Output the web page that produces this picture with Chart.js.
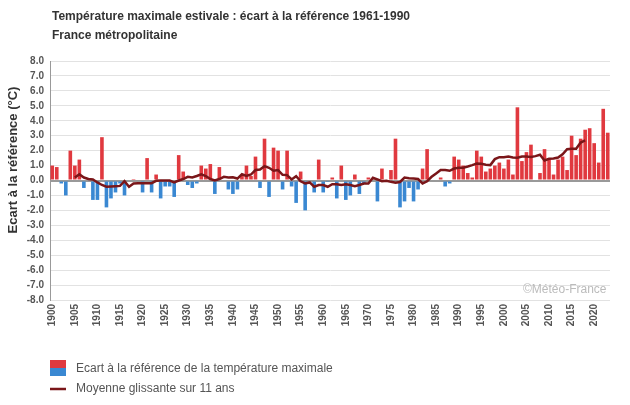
<!DOCTYPE html>
<html>
<head>
<meta charset="utf-8">
<script src="https://cdn.jsdelivr.net/npm/chart.js@4/dist/chart.umd.min.js"></script>
<style>
  html, body { margin: 0; padding: 0; background: #fff; }
</style>
</head>
<body>
<canvas id="tmaxChart" width="630" height="405"></canvas>
<script>
// Summer max temperature anomaly vs 1961-1990 (°C)
const firstYear = 1900;
const lastYear = 2023;
const years = [];
for (let y = firstYear; y <= lastYear; y++) years.push(String(y));

const anomalies = [
  1.0, 0.9, -0.2, -1.0, 2.0, 1.0, 1.4, -0.5, 0.1, -1.3,    // 1900
  -1.3, 2.9, -1.8, -1.2, -0.8, -0.2, -1.0, 0.0, 0.1, 0.0,  // 1910
  -0.8, 1.5, -0.8, 0.4, -1.2, -0.4, -0.4, -1.1, 1.7, 0.6,  // 1920
  -0.3, -0.5, -0.2, 1.0, 0.8, 1.1, -0.9, 0.9, 0.0, -0.6,   // 1930
  -0.9, -0.6, 0.4, 1.0, 0.3, 1.6, -0.5, 2.8, -1.1, 2.2,    // 1940
  2.0, -0.6, 2.0, -0.4, -1.5, 0.6, -2.0, 0.0, -0.8, 1.4,   // 1950
  -0.8, -0.1, 0.2, -1.2, 1.0, -1.3, -1.0, 0.4, -0.9, -0.2, // 1960
  0.2, 0.1, -1.4, 0.8, 0.0, 0.7, 2.8, -1.8, -1.4, -0.5,    // 1970
  -1.4, -0.6, 0.8, 2.1, 0.0, 0.0, 0.2, -0.4, -0.2, 1.6,    // 1980
  1.4, 1.0, 0.5, 0.2, 2.0, 1.6, 0.6, 0.8, 1.0, 1.2,        // 1990
  0.8, 1.4, 0.4, 4.9, 1.3, 1.9, 2.4, 0.0, 0.5, 2.1,        // 2000
  1.4, 0.4, 1.4, 1.6, 0.7, 3.0, 1.7, 2.8, 3.4, 3.5,        // 2010
  2.5, 1.2, 4.8, 3.2                                       // 2020
];

// 11-year running mean, 1905 -> 2018
const avgStart = 1905;
const movingAvg = [
  0.2, 0.42, 0.2, 0.1, 0.07,                                    // 1905
  -0.13, -0.3, -0.42, -0.4, -0.38, -0.36, -0.05, -0.42, -0.2, -0.18, // 1910
  -0.18, -0.18, -0.18, -0.02, 0.0, 0.0, 0.0, -0.13, 0.0, 0.1,   // 1920
  0.25, 0.2, 0.3, 0.42, 0.3, 0.1, 0.0, 0.1, 0.25, 0.2,          // 1930
  0.22, 0.13, 0.42, 0.3, 0.4, 0.7, 0.74, 0.96, 0.85, 0.65,      // 1940
  0.7, 0.38, 0.36, 0.07, 0.29, -0.05, -0.2, -0.13, -0.42, -0.3, // 1950
  -0.3, -0.42, -0.25, -0.25, -0.3, -0.25, -0.3, -0.38, -0.3, -0.2, // 1960
  -0.2, 0.18, 0.07, -0.05, -0.02, -0.09, -0.15, -0.1, 0.2, 0.15, // 1970
  0.13, 0.1, -0.2, -0.05, 0.25, 0.47, 0.7, 0.7, 0.65, 0.8,      // 1980
  0.85, 0.86, 0.94, 1.03, 1.14, 1.12, 1.05, 1.03, 1.43, 1.56,   // 1990
  1.56, 1.6, 1.54, 1.52, 1.6, 1.6, 1.58, 1.63, 1.72, 1.34,      // 2000
  1.45, 1.47, 1.54, 1.76, 2.1, 2.12, 2.12, 2.54, 2.68           // 2010
];

const RED = "#e0393f";
const BLUE = "#3a88d2";
const MAROON = "#7a1619";
const FONT = "'Liberation Sans', Arial, sans-serif";

const avgData = years.map((y) => {
  const i = Number(y) - avgStart;
  return i >= 0 && i < movingAvg.length ? movingAvg[i] : null;
});

// titles, axis title, watermark and legend drawn on the canvas
const decorations = {
  id: "decorations",
  afterDraw(chart) {
    const ctx = chart.ctx;
    ctx.save();
    ctx.textBaseline = "middle";
    ctx.textAlign = "left";

    ctx.fillStyle = "#333";
    ctx.font = "bold 12px " + FONT;
    ctx.fillText("Température maximale estivale : écart à la référence 1961-1990", 52, 17);
    ctx.fillText("France métropolitaine", 52, 36);

    // y axis title
    ctx.save();
    ctx.translate(13, 160);
    ctx.rotate(-Math.PI / 2);
    ctx.textAlign = "center";
    ctx.font = "bold 13px " + FONT;
    ctx.fillText("Ecart à la référence (°C)", 0, 0);
    ctx.restore();

    ctx.fillStyle = "#bbb";
    ctx.font = "12px " + FONT;
    ctx.fillText("©Météo-France", 523, 290);

    // legend
    ctx.fillStyle = RED;
    ctx.fillRect(50, 360, 16, 8);
    ctx.fillStyle = BLUE;
    ctx.fillRect(50, 368, 16, 8);
    ctx.strokeStyle = MAROON;
    ctx.lineWidth = 2.5;
    ctx.beginPath();
    ctx.moveTo(50, 389);
    ctx.lineTo(66, 389);
    ctx.stroke();

    ctx.fillStyle = "#555";
    ctx.font = "12px " + FONT;
    ctx.fillText("Ecart à la référence de la température maximale", 76, 369);
    ctx.fillText("Moyenne glissante sur 11 ans", 76, 389);
    ctx.restore();
  },
};

const ctx = document.getElementById("tmaxChart").getContext("2d");
const tmaxChart = new Chart(ctx, {
  type: "bar",
  data: {
    labels: years,
    datasets: [
      {
        type: "line",
        label: "Moyenne glissante sur 11 ans",
        data: avgData,
        borderColor: MAROON,
        borderWidth: 2.5,
        pointRadius: 0,
        tension: 0,
        spanGaps: false,
        order: 0,
      },
      {
        label: "Ecart à la référence de la température maximale",
        data: anomalies,
        backgroundColor: anomalies.map((v) => (v >= 0 ? RED : BLUE)),
        borderWidth: 0,
        barPercentage: 0.8,
        categoryPercentage: 1.0,
        order: 1,
      },
    ],
  },
  options: {
    responsive: false,
    animation: false,
    layout: {
      padding: { top: 61, right: 20, left: 0, bottom: 0 },
    },
    plugins: {
      legend: { display: false },
      tooltip: { enabled: false },
    },
    scales: {
      x: {
        grid: { display: false },
        border: { display: false },
        ticks: {
          autoSkip: false,
          minRotation: 90,
          maxRotation: 90,
          padding: -4,
          color: "#555",
          font: { family: FONT, size: 10, weight: "bold" },
          callback: function (value) {
            const y = Number(this.getLabelForValue(value));
            return y % 5 === 0 ? String(y) : "";
          },
        },
        afterFit: (scale) => {
          scale.height = 105;
        },
      },
      y: {
        min: -8,
        max: 8,
        grid: {
          color: (c) => (c.tick && c.tick.value === 0 ? "#999" : "#e2e2e2"),
          lineWidth: (c) => (c.tick && c.tick.value === 0 ? 2 : 1),
          drawTicks: false,
        },
        border: { display: true, color: "#999", width: 1 },
        ticks: {
          stepSize: 1,
          autoSkip: false,
          padding: 6,
          color: "#555",
          font: { family: FONT, size: 10, weight: "bold" },
          callback: (v) => Number(v).toFixed(1),
        },
        afterFit: (scale) => {
          scale.width = 50;
        },
      },
    },
  },
  plugins: [decorations],
});
</script>
</body>
</html>
